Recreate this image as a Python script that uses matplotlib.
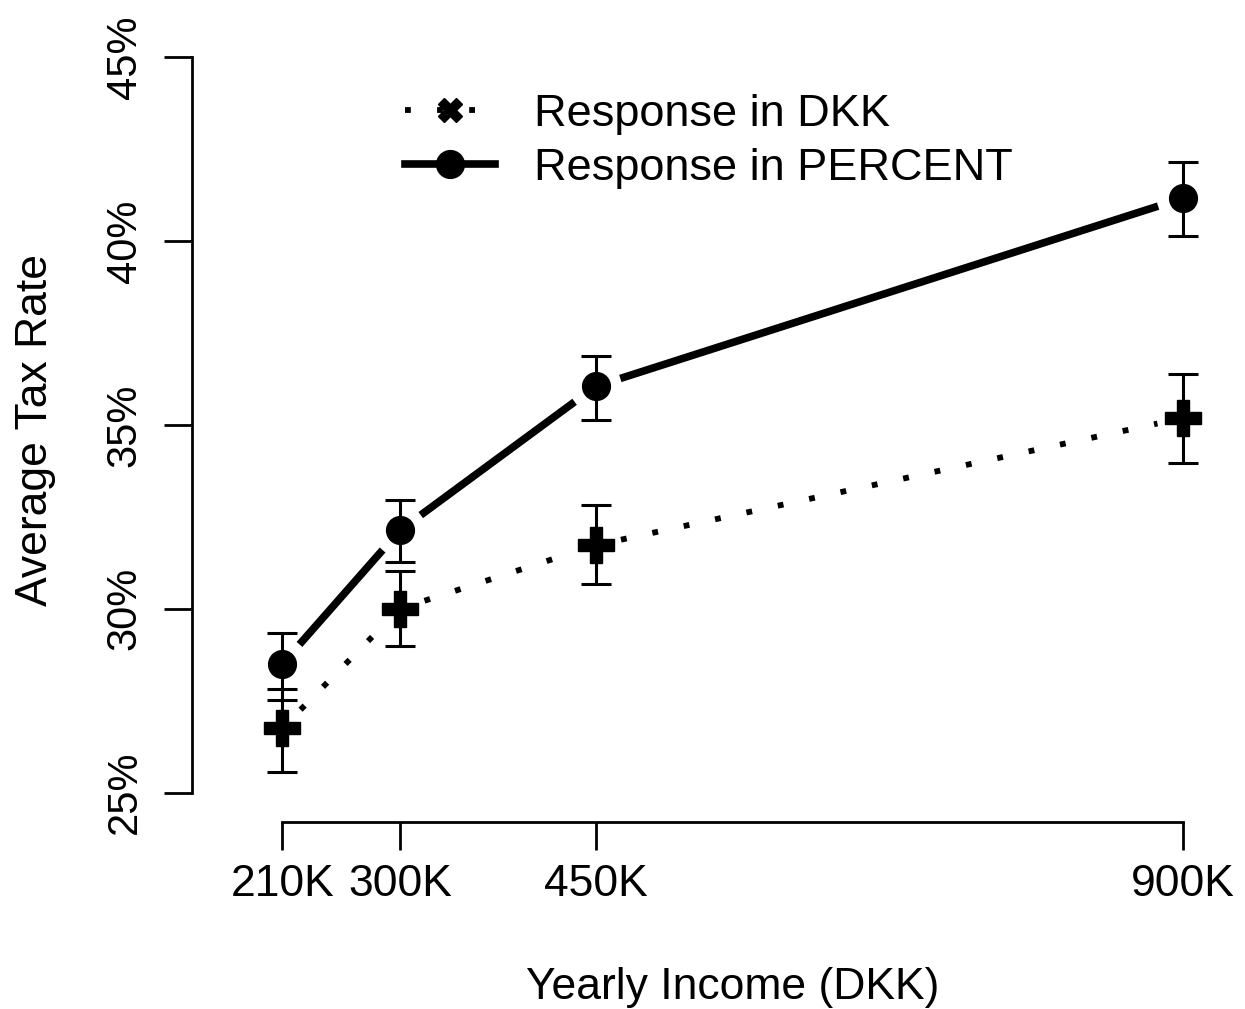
import numpy as np
import matplotlib
matplotlib.use('Agg')
import matplotlib.pyplot as plt
from matplotlib.lines import Line2D

plt.rcParams['font.family'] = ['Liberation Sans', 'DejaVu Sans']

income = [210, 300, 450, 900]
income_labels = ['210K', '300K', '450K', '900K']

pct_mean = [28.50, 32.13, 36.05, 41.17]
pct_low = [27.53, 31.27, 35.14, 40.15]
pct_high = [29.33, 32.96, 36.88, 42.15]

dkk_mean = [26.75, 30.00, 31.73, 35.19]
dkk_low = [25.57, 29.00, 30.67, 33.96]
dkk_high = [27.83, 31.02, 32.82, 36.40]

y_ticks = [25, 30, 35, 40, 45]
y_tick_labels = ['25%', '30%', '35%', '40%', '45%']

W, H = 1245, 1009
fig = plt.figure(figsize=(W / 100, H / 100), dpi=100)
ax = fig.add_axes([192 / W, 1 - 822 / H, (1221 - 192) / W, (822 - 28) / H])
ax.set_xlim(140.8, 929.2)
ax.set_ylim(24.2, 45.8)


def gap_line(ax, xs, ys, gap_px, **kw):
    # R type="b": line segments stop short of the points
    pts = ax.transData.transform(np.column_stack([xs, ys]))
    inv = ax.transData.inverted()
    for p0, p1 in zip(pts[:-1], pts[1:]):
        d = p1 - p0
        n = np.hypot(*d)
        u = d / n
        a = inv.transform(p0 + u * gap_px)
        b = inv.transform(p1 - u * gap_px)
        ax.plot([a[0], b[0]], [a[1], b[1]], color='black', **kw)


gap_line(ax, income, pct_mean, 26, lw=5.5, solid_capstyle='butt')
gap_line(ax, income, dkk_mean, 26, lw=4.2, linestyle=(0, (1, 4.5)))

ax.errorbar(income, pct_mean,
            yerr=[np.subtract(pct_mean, pct_low), np.subtract(pct_high, pct_mean)],
            fmt='none', ecolor='black', elinewidth=2.2, capsize=11, capthick=2.2)
ax.errorbar(income, dkk_mean,
            yerr=[np.subtract(dkk_mean, dkk_low), np.subtract(dkk_high, dkk_mean)],
            fmt='none', ecolor='black', elinewidth=2.2, capsize=11, capthick=2.2)

ax.plot(income, pct_mean, 'o', color='black', markersize=20, zorder=5)
ax.plot(income, dkk_mean, 'P', color='black', markersize=26, zorder=5)

for s in ['top', 'right']:
    ax.spines[s].set_visible(False)
ax.spines['left'].set_bounds(25, 45)
ax.spines['bottom'].set_bounds(210, 900)
ax.spines['left'].set_linewidth(2)
ax.spines['bottom'].set_linewidth(2)

ax.set_xticks(income)
ax.set_xticklabels(income_labels, fontsize=32)
ax.set_yticks(y_ticks)
ax.set_yticklabels(y_tick_labels, fontsize=30, rotation=90, va='center')
ax.tick_params(axis='both', length=20, width=2, color='black')
ax.tick_params(axis='x', pad=10)
ax.tick_params(axis='y', pad=14)

ax.set_xlabel('Yearly Income (DKK)', fontsize=32)
ax.xaxis.label.set_va('center')
ax.xaxis.set_label_coords((733 - 192) / 1029, (822 - 987) / 794)
ax.set_ylabel('Average Tax Rate', fontsize=32)
ax.yaxis.label.set_va('center')
ax.yaxis.set_label_coords((35 - 192) / 1029, (822 - 430) / 794)

handles = [
    Line2D([], [], color='black', lw=4.2, linestyle=(0, (1, 4.5)),
           marker='X', markersize=17),
    Line2D([], [], color='black', lw=5.5, marker='o', markersize=20),
]
ax.legend(handles, ['Response in DKK', 'Response in PERCENT'],
          loc='upper left', bbox_to_anchor=(405 / W, 1 - 94 / H),
          bbox_transform=fig.transFigure, frameon=False, fontsize=32.5,
          handlelength=2.0, handletextpad=0.85, labelspacing=0.28,
          borderpad=0, borderaxespad=0, numpoints=1)

fig.savefig('out.png', dpi=100)
